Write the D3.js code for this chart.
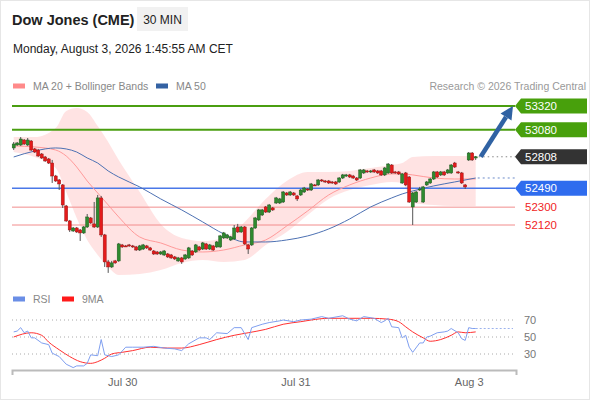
<!DOCTYPE html>
<html>
<head>
<meta charset="utf-8">
<script src="https://cdn.jsdelivr.net/npm/d3@7/dist/d3.min.js"></script>
<style>
body{margin:0;background:#fff;font-family:"Liberation Sans",Arial,sans-serif;}
</style>
</head>
<body>
<div class="canvas"></div>
<script>
/* Dow Jones (CME) 30 min chart with Bollinger, MA50 and RSI */

// candles, 30 min bars (Jul 29 -> Aug 3)
var open = [52897,52927,52927,52977,52927,52967,52887,52876,52836,52806,
    52786,52745,52614,52574,52524,52312,52161,52060,52090,52070,
    52040,52100,52191,52131,52100,52393,52020,51748,51697,51758,
    51758,51919,51909,51919,51909,51899,51868,51878,51909,51889,
    51858,51848,51828,51818,51828,51818,51798,51758,51788,51778,
    51788,51858,51848,51899,51878,51929,51878,51909,51899,51899,
    51990,51990,51969,51979,52100,52050,52100,51919,51919,52090,
    52171,52221,52302,52251,52292,52342,52342,52352,52443,52423,
    52443,52413,52423,52453,52483,52473,52524,52524,52574,52564,
    52564,52554,52554,52554,52594,52614,52625,52614,52594,52594,
    52645,52665,52655,52675,52665,52665,52625,52645,52725,52655,
    52655,52544,52645,52604,52302,52352,52473,52352,52524,52544,
    52584,52655,52625,52655,52645,52645,52745,52655,52645,52524,
    52776,52846,52796];
var high = [52957,52957,53007,52987,52997,52977,52897,52887,52846,52816,
    52796,52776,52625,52584,52534,52322,52171,52100,52100,52080,
    52110,52231,52201,52352,52423,52413,52030,51768,51758,51768,
    51939,51929,51919,51929,51919,51909,51919,51929,51919,51899,
    51868,51858,51858,51868,51838,51828,51808,51798,51798,51828,
    51899,51868,51929,51909,51949,51939,51929,51919,51959,52020,
    52050,52030,52010,52120,52131,52110,52110,51929,52100,52201,
    52282,52282,52312,52332,52302,52403,52393,52463,52453,52463,
    52453,52423,52483,52504,52493,52544,52534,52584,52584,52574,
    52574,52564,52564,52604,52635,52635,52635,52625,52604,52685,
    52685,52675,52675,52685,52675,52675,52705,52745,52735,52665,
    52665,52645,52655,52614,52453,52463,52504,52514,52564,52594,
    52665,52665,52665,52665,52685,52735,52756,52665,52655,52534,
    52856,52856,52816];
var low = [52876,52917,52917,52927,52917,52866,52846,52806,52786,52756,
    52735,52544,52554,52473,52292,52151,52050,52050,52040,51959,
    52030,52090,52131,52090,52090,52000,51697,51637,51687,51728,
    51748,51889,51899,51899,51889,51858,51858,51868,51878,51858,
    51818,51818,51818,51808,51788,51778,51768,51748,51728,51768,
    51778,51808,51838,51858,51868,51868,51868,51858,51889,51889,
    51979,51979,51959,51969,52040,52040,51919,51828,51909,52080,
    52161,52211,52241,52241,52262,52332,52332,52342,52413,52413,
    52413,52362,52413,52443,52463,52463,52514,52514,52554,52544,
    52534,52534,52524,52544,52584,52604,52594,52584,52564,52584,
    52635,52645,52645,52645,52635,52614,52614,52635,52635,52635,
    52625,52534,52514,52342,52120,52342,52463,52342,52514,52534,
    52574,52594,52614,52614,52635,52635,52695,52635,52534,52483,
    52766,52766,52776];
var close = [52937,52947,52987,52937,52977,52876,52856,52816,52796,52766,
    52745,52614,52564,52534,52322,52161,52070,52090,52050,52040,
    52100,52201,52141,52100,52393,52020,51748,51697,51738,51738,
    51929,51899,51904,51909,51899,51868,51909,51919,51889,51868,
    51828,51828,51848,51858,51798,51788,51778,51788,51748,51818,
    51889,51818,51919,51868,51939,51878,51919,51868,51949,52010,
    52040,52020,52000,52090,52050,52100,51929,51878,52090,52191,
    52272,52272,52251,52322,52272,52393,52383,52453,52423,52453,
    52423,52383,52473,52493,52473,52534,52519,52574,52564,52554,
    52544,52544,52534,52594,52625,52625,52604,52594,52574,52675,
    52675,52655,52665,52655,52645,52625,52695,52735,52645,52645,
    52635,52635,52524,52352,52443,52453,52483,52504,52554,52584,
    52655,52604,52655,52625,52675,52725,52705,52645,52544,52504,
    52846,52776,52808];

// indicator readings (bar index -> value)
var bandIdx = [0,6,12,15,18,21,24,27,30,36,42,48,54,60,66,72,78,84,90,96,102,108,111,114,120,126,132];
var bandUpper = [53007,53007,53098,53270,53300,53260,53118,52957,52776,52453,52131,51990,51959,51990,52151,52383,52564,52655,52655,52665,52695,52725,52745,52806,52816,52816,52816];
var bandLower = [52856,52806,52695,52453,52191,51969,51818,51697,51617,51627,51667,51738,51768,51748,51768,51919,52050,52221,52383,52473,52524,52554,52544,52342,52322,52312,52312];
var ma20 = [52917,52907,52876,52816,52705,52564,52443,52322,52201,51999,51939,51868,51848,51868,51919,51969,52110,52262,52423,52524,52594,52635,52635,52625,52594,52584,52584];
var ma50 = [52806,52866,52897,52887,52856,52796,52745,52665,52604,52504,52383,52272,52151,52030,51949,51949,51969,52010,52080,52181,52302,52393,52433,52463,52514,52554,52594];

var rsiIdx = [0,1,2,3,4,5,6,8,10,11,13,15,17,18,20,21,22,24,25,26,28,30,32,34,37,40,43,46,48,50,53,55,56,58,61,63,65,67,68,71,73,76,77,80,82,85,88,90,94,96,98,100,103,105,106,107,108,110,111,112,113,114,116,117,118,119,121,123,124,125,127,128,129,130,131,132];
var rsiVal = [56,57,61,55,57,49,49,43,41,31,27,18,14,16,16,19,29,28,47,29,27,29,38,38,38,39,37,36,34,42,49,49,47,55,54,61,61,47,61,65,67,69,70,68,70,71,74,72,75,71,69,74,72,67,69,72,62,61,49,52,38,32,43,43,50,51,55,56,57,60,55,48,46,61,60,60];
var rsiMaIdx = [0,5,8,10,13,16,19,22,24,26,28,31,34,39,44,48,53,58,63,67,72,77,82,85,90,96,102,107,110,112,114,117,119,122,125,127,129,132];
var rsiMaVal = [50,55,52,44,35,27,21,19,21,25,30,32,34,38,37,37,41,47,52,55,59,65,68,70,72,72,72,71,68,62,56,49,45,47,52,56,55,56];

// key levels
var resistLevels = [53320, 53080];
var supportLevels = [52490, 52300, 52120];
var rsiGrid = [70, 50, 30];
var dayLabels = ["Jul 30", "Jul 31", "Aug 3"];
var dayIdx = [31, 80.5, 130];

var W = 590, H = 400;
var plotL = 12, plotR = 515;

var svg = d3.select('.canvas')
    .append('svg')
    .attr('width', W)
    .attr('height', H)
    .style('display', 'block');

svg.append('rect')
    .attr('x', 0.5).attr('y', 0.5)
    .attr('width', W - 1).attr('height', H - 1)
    .style('fill', '#fff')
    .style('stroke', '#e6e6e6');

var x = d3.scaleLinear().domain([0, close.length - 1]).range([13.7, 475.7]);
var y = d3.scaleLinear().domain([52120, 53320]).range([225, 106]);
var yRsi = d3.scaleLinear().domain([30, 70]).range([354, 320]);

/* header */
svg.append('text')
    .attr('x', 12).attr('y', 25)
    .style('font-size', '14.5px').style('font-weight', 'bold').style('fill', '#222')
    .text('Dow Jones (CME)');
svg.append('rect')
    .attr('x', 137).attr('y', 7).attr('width', 51).attr('height', 24)
    .style('fill', '#f1f1f1');
svg.append('text')
    .attr('x', 162.5).attr('y', 23.5)
    .attr('text-anchor', 'middle')
    .style('font-size', '12px').style('fill', '#222')
    .text('30 MIN');
svg.append('text')
    .attr('x', 13).attr('y', 53)
    .style('font-size', '12px').style('fill', '#222')
    .text('Monday, August 3, 2026 1:45:55 AM CET');

function legend(lx, ly, color, label){
    svg.append('rect')
        .attr('x', lx).attr('y', ly - 2.5).attr('width', 12).attr('height', 5)
        .style('fill', color);
    svg.append('text')
        .attr('x', lx + 20).attr('y', ly + 4)
        .style('font-size', '10.5px').style('fill', '#888')
        .text(label);
}
legend(13, 86, '#ff8a8a', 'MA 20 + Bollinger Bands');
legend(156, 86, '#3462a3', 'MA 50');
legend(13, 299, '#6a8ee6', 'RSI');
legend(62, 299, '#ff1a1a', '9MA');

svg.append('text')
    .attr('x', 586).attr('y', 90)
    .attr('text-anchor', 'end')
    .style('font-size', '10.5px').style('fill', '#999')
    .text('Research \u00a9 2026 Trading Central');

/* bollinger band + moving averages */
var band = bandIdx.map(function(d, i){
    return {i: d, up: bandUpper[i], lo: bandLower[i], m20: ma20[i], m50: ma50[i]};
});

svg.append('path')
    .datum(band)
    .attr('d', d3.area()
        .x(function(d){ return x(d.i); })
        .y0(function(d){ return y(d.lo); })
        .y1(function(d){ return y(d.up); })
        .curve(d3.curveMonotoneX))
    .style('fill', '#ffdede')
    .style('opacity', 0.85);

// level lines
var levels = svg.append('g');
resistLevels.forEach(function(v){
    levels.append('line')
        .attr('x1', plotL).attr('x2', plotR)
        .attr('y1', y(v)).attr('y2', y(v))
        .style('stroke', '#4a9e10').style('stroke-width', 2);
});
supportLevels.forEach(function(v, i){
    levels.append('line')
        .attr('x1', plotL).attr('x2', plotR)
        .attr('y1', y(v)).attr('y2', y(v))
        .style('stroke', i == 0 ? '#4a78e8' : '#f28c8c')
        .style('stroke-width', i == 0 ? 1.5 : 1);
});

svg.append('path')
    .datum(band)
    .attr('d', d3.line()
        .x(function(d){ return x(d.i); })
        .y(function(d){ return y(d.m20); })
        .curve(d3.curveMonotoneX))
    .style('fill', 'none')
    .style('stroke', '#ff9a9a')
    .style('stroke-width', 1);

svg.append('path')
    .datum(band)
    .attr('d', d3.line()
        .x(function(d){ return x(d.i); })
        .y(function(d){ return y(d.m50); })
        .curve(d3.curveMonotoneX))
    .style('fill', 'none')
    .style('stroke', '#4d71b3')
    .style('stroke-width', 1);

var last = close.length - 1;
svg.append('line')
    .attr('x1', x(last) + 2).attr('x2', plotR)
    .attr('y1', y(ma50[ma50.length - 1])).attr('y2', y(ma50[ma50.length - 1]))
    .style('stroke', '#6b8bc8').style('stroke-dasharray', '2,3');
svg.append('line')
    .attr('x1', x(last) + 3).attr('x2', plotR)
    .attr('y1', y(close[last])).attr('y2', y(close[last]))
    .style('stroke', '#888').style('stroke-dasharray', '1.5,3');

/* candles */
var candles = close.map(function(c, i){
    return {i: i, o: open[i], h: high[i], l: low[i], c: c};
});
var cg = svg.append('g').selectAll('.candle')
    .data(candles)
    .enter()
    .append('g')
    .attr('class', 'candle');
cg.append('line')
    .attr('x1', function(d){ return x(d.i); })
    .attr('x2', function(d){ return x(d.i); })
    .attr('y1', function(d){ return y(d.h); })
    .attr('y2', function(d){ return y(d.l); })
    .style('stroke', '#555')
    .style('stroke-width', 1);
cg.append('rect')
    .attr('x', function(d){ return x(d.i) - 1.5; })
    .attr('width', 3)
    .attr('y', function(d){ return y(Math.max(d.o, d.c)); })
    .attr('height', function(d){ return Math.max(1, Math.abs(y(d.o) - y(d.c))); })
    .style('fill', function(d){ return d.c > d.o ? '#2f8a2f' : '#e41b1b'; })
    .style('stroke', function(d){ return d.c > d.o ? '#1d5a1d' : '#a01212'; })
    .style('stroke-width', 0.5);

/* target arrow */
var ax0 = x(last) + 5, ay0 = y(close[last]);
var ax1 = plotR - 2, ay1 = y(resistLevels[0]);
var ang = Math.atan2(ay1 - ay0, ax1 - ax0);
var headLen = 13, headW = 6.5;
var bx = ax1 - headLen * Math.cos(ang), by = ay1 - headLen * Math.sin(ang);
svg.append('line')
    .attr('x1', ax0).attr('y1', ay0)
    .attr('x2', bx).attr('y2', by)
    .style('stroke', '#3062a3').style('stroke-width', 4.5);
svg.append('polygon')
    .attr('points', [
        [ax1, ay1],
        [bx + headW * Math.sin(ang), by - headW * Math.cos(ang)],
        [bx - headW * Math.sin(ang), by + headW * Math.cos(ang)]
    ].map(function(p){ return p.join(','); }).join(' '))
    .style('fill', '#3062a3');

/* price tags */
function tag(v, color){
    var g = svg.append('g').attr('transform', 'translate(' + plotR + ',' + y(v) + ')');
    g.append('polygon')
        .attr('points', '0,0 6,-7.5 72,-7.5 72,7.5 6,7.5')
        .style('fill', color);
    g.append('text')
        .attr('x', 10).attr('dy', '0.36em')
        .style('font-size', '11.5px').style('fill', '#fff')
        .text(v);
}
resistLevels.forEach(function(v){ tag(v, '#48a00c'); });
tag(close[last], '#333');
tag(supportLevels[0], '#2f6cee');
supportLevels.slice(1).forEach(function(v){
    svg.append('text')
        .attr('x', plotR + 10).attr('y', y(v)).attr('dy', '0.36em')
        .style('font-size', '11.5px').style('fill', '#f02424')
        .text(v);
});

/* RSI panel */
rsiGrid.forEach(function(v){
    svg.append('line')
        .attr('x1', plotL).attr('x2', plotR)
        .attr('y1', yRsi(v)).attr('y2', yRsi(v))
        .style('stroke', '#aaa').style('stroke-dasharray', '1,3');
    svg.append('text')
        .attr('x', 524).attr('y', yRsi(v)).attr('dy', '0.36em')
        .style('font-size', '11px').style('fill', '#777')
        .text(v);
});

var rsiPts = rsiIdx.map(function(d, i){ return {i: d, v: rsiVal[i]}; });
var rsiMaPts = rsiMaIdx.map(function(d, i){ return {i: d, v: rsiMaVal[i]}; });

svg.append('line')
    .attr('x1', x(last)).attr('x2', plotR - 2)
    .attr('y1', yRsi(rsiVal[rsiVal.length - 1])).attr('y2', yRsi(rsiVal[rsiVal.length - 1]))
    .style('stroke', '#9db3ee').style('stroke-dasharray', '2,2');

svg.append('path')
    .datum(rsiMaPts)
    .attr('d', d3.line()
        .x(function(d){ return x(d.i); })
        .y(function(d){ return yRsi(d.v); })
        .curve(d3.curveMonotoneX))
    .style('fill', 'none')
    .style('stroke', '#ff3030')
    .style('stroke-width', 1);

svg.append('path')
    .datum(rsiPts)
    .attr('d', d3.line()
        .x(function(d){ return x(d.i); })
        .y(function(d){ return yRsi(d.v); }))
    .style('fill', 'none')
    .style('stroke', '#7f9ff0')
    .style('stroke-width', 1);

/* time axis */
var xAxisScale = x.copy()
    .domain([x.invert(plotL), x.invert(plotR + 1)])
    .range([plotL, plotR + 1]);
var xAxis = d3.axisBottom(xAxisScale)
    .tickValues(dayIdx)
    .tickFormat(function(d, i){ return dayLabels[i]; })
    .tickSizeInner(0)
    .tickSizeOuter(5)
    .tickPadding(8);
var axisG = svg.append('g')
    .attr('transform', 'translate(0,370)')
    .call(xAxis);
axisG.select('.domain').style('stroke', '#bbb').style('stroke-width', 2);
axisG.selectAll('text')
    .style('font-family', '"Liberation Sans",Arial,sans-serif')
    .style('font-size', '11px')
    .style('fill', '#666');
</script>
</body>
</html>
